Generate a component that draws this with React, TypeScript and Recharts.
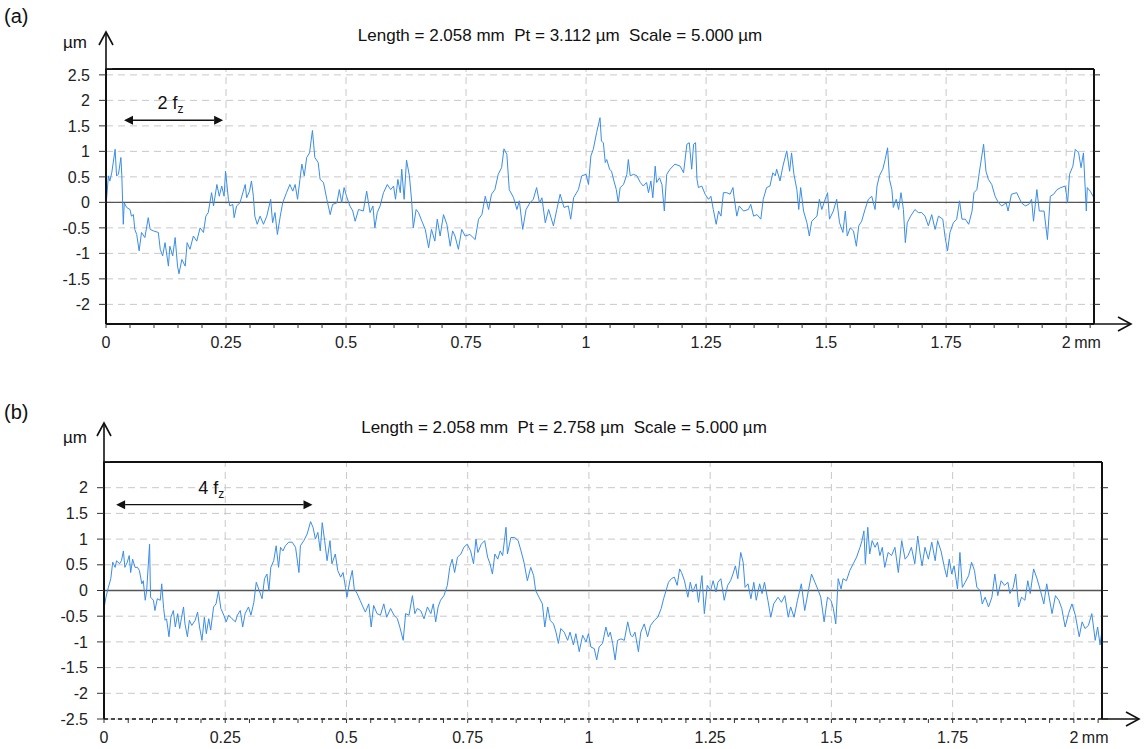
import React from 'react';
import { CartesianGrid, Line, LineChart, ReferenceLine, XAxis, YAxis } from 'recharts';

// Profile (a): [x in mm, height in µm].
const PROFILE_A: [number, number][] = [
  [0.000,-0.07],[0.005,0.52],[0.008,0.42],[0.012,0.58],[0.019,1.04],[0.022,0.52],[0.026,0.55],[0.031,0.88],[0.033,0.52],[0.036,-0.43],
  [0.038,-0.01],[0.043,-0.10],[0.050,-0.14],[0.053,-0.27],[0.057,-0.24],[0.060,-0.53],[0.064,-0.63],[0.069,-0.95],[0.074,-0.59],[0.081,-0.69],
  [0.088,-0.30],[0.092,-0.53],[0.099,-0.56],[0.109,-0.59],[0.113,-0.92],[0.118,-1.05],[0.123,-0.79],[0.130,-1.25],[0.133,-0.86],[0.139,-1.05],
  [0.144,-0.69],[0.149,-1.25],[0.152,-1.40],[0.158,-1.12],[0.165,-1.25],[0.169,-0.79],[0.175,-0.92],[0.182,-0.66],[0.189,-0.76],[0.196,-0.50],
  [0.203,-0.59],[0.208,-0.27],[0.213,-0.20],[0.220,0.19],[0.224,-0.07],[0.231,0.35],[0.236,0.12],[0.241,0.32],[0.246,0.12],[0.249,0.61],
  [0.255,0.06],[0.258,-0.07],[0.264,-0.04],[0.267,-0.30],[0.272,-0.07],[0.279,-0.01],[0.286,0.22],[0.290,0.35],[0.293,0.09],[0.299,0.22],
  [0.303,0.42],[0.307,0.12],[0.310,-0.27],[0.315,-0.43],[0.321,-0.27],[0.328,-0.43],[0.335,-0.27],[0.343,0.06],[0.347,-0.40],[0.352,-0.20],
  [0.357,-0.63],[0.363,-0.27],[0.368,-0.01],[0.376,0.19],[0.383,0.35],[0.389,0.22],[0.394,0.35],[0.399,0.06],[0.404,0.45],[0.408,0.75],
  [0.413,0.52],[0.418,0.88],[0.424,0.97],[0.430,1.41],[0.435,0.88],[0.442,0.78],[0.446,0.45],[0.453,0.39],[0.460,0.06],[0.467,-0.24],
  [0.472,-0.04],[0.481,-0.01],[0.486,0.25],[0.491,-0.01],[0.496,0.29],[0.501,0.12],[0.508,-0.07],[0.514,-0.17],[0.519,-0.37],[0.526,-0.14],
  [0.536,-0.17],[0.543,0.22],[0.550,-0.20],[0.556,-0.07],[0.560,-0.50],[0.565,-0.20],[0.571,-0.07],[0.578,0.19],[0.586,0.35],[0.593,0.25],
  [0.599,0.32],[0.603,0.06],[0.608,0.45],[0.613,0.19],[0.616,0.65],[0.621,0.06],[0.626,0.83],[0.632,0.52],[0.637,-0.01],[0.640,-0.50],
  [0.646,-0.14],[0.651,-0.20],[0.658,-0.37],[0.665,-0.53],[0.672,-0.89],[0.678,-0.53],[0.685,-0.76],[0.690,-0.33],[0.696,-0.66],[0.703,-0.24],
  [0.710,-0.43],[0.717,-0.86],[0.722,-0.56],[0.727,-0.66],[0.734,-0.92],[0.741,-0.53],[0.748,-0.66],[0.758,-0.63],[0.769,-0.73],[0.776,-0.33],
  [0.783,-0.24],[0.790,0.12],[0.797,-0.14],[0.803,0.16],[0.810,0.25],[0.817,0.55],[0.824,0.68],[0.829,1.05],[0.835,0.94],[0.840,0.25],
  [0.849,0.09],[0.856,-0.14],[0.861,0.03],[0.868,-0.53],[0.875,-0.14],[0.883,-0.01],[0.890,0.06],[0.897,0.29],[0.903,-0.01],[0.908,0.09],
  [0.915,-0.40],[0.922,-0.14],[0.932,-0.46],[0.939,-0.14],[0.946,0.16],[0.954,-0.10],[0.963,-0.07],[0.968,-0.33],[0.974,0.09],[0.984,0.25],
  [0.991,0.52],[1.000,0.55],[1.005,0.35],[1.010,0.91],[1.015,1.04],[1.022,1.37],[1.029,1.66],[1.032,1.20],[1.036,1.17],[1.040,0.78],
  [1.043,0.84],[1.049,0.65],[1.053,0.61],[1.058,0.42],[1.063,0.25],[1.067,-0.01],[1.071,0.29],[1.078,0.35],[1.085,0.55],[1.088,0.84],
  [1.092,0.52],[1.099,0.55],[1.106,0.52],[1.113,0.39],[1.119,0.32],[1.126,0.39],[1.130,0.19],[1.135,0.42],[1.139,0.09],[1.144,0.71],
  [1.147,0.39],[1.153,0.48],[1.158,0.35],[1.163,-0.17],[1.168,0.55],[1.175,0.65],[1.185,0.75],[1.196,0.71],[1.203,0.58],[1.210,1.14],
  [1.215,1.17],[1.220,0.65],[1.224,1.14],[1.228,1.17],[1.231,0.45],[1.234,0.29],[1.241,0.32],[1.248,0.16],[1.255,0.06],[1.260,0.12],
  [1.265,-0.14],[1.271,-0.43],[1.276,-0.17],[1.281,-0.27],[1.286,0.19],[1.293,0.19],[1.300,0.16],[1.306,0.29],[1.308,0.12],[1.314,-0.27],
  [1.319,-0.07],[1.328,-0.17],[1.338,-0.14],[1.343,-0.04],[1.349,-0.27],[1.356,-0.24],[1.364,-0.33],[1.369,0.06],[1.376,0.29],[1.383,0.32],
  [1.389,0.58],[1.394,0.52],[1.397,0.65],[1.404,0.42],[1.410,0.71],[1.418,1.01],[1.424,0.61],[1.428,0.97],[1.433,0.55],[1.439,0.25],
  [1.443,-0.14],[1.447,0.29],[1.453,-0.17],[1.460,-0.40],[1.465,-0.66],[1.470,-0.37],[1.481,-0.27],[1.486,0.06],[1.491,-0.14],[1.498,0.06],
  [1.503,0.19],[1.507,-0.33],[1.515,-0.17],[1.522,0.06],[1.528,-0.40],[1.535,-0.59],[1.540,-0.17],[1.544,-0.66],[1.550,-0.50],[1.557,-0.56],
  [1.563,-0.86],[1.568,-0.46],[1.574,-0.37],[1.581,-0.14],[1.588,0.06],[1.595,0.12],[1.602,-0.14],[1.606,0.32],[1.611,0.52],[1.618,0.65],
  [1.623,0.84],[1.628,1.07],[1.632,0.45],[1.637,0.25],[1.640,-0.10],[1.646,0.06],[1.651,-0.14],[1.656,0.19],[1.661,-0.14],[1.665,-0.79],
  [1.669,-0.40],[1.676,-0.27],[1.685,-0.14],[1.692,-0.20],[1.699,-0.20],[1.706,-0.27],[1.713,-0.46],[1.720,-0.24],[1.727,-0.53],[1.734,-0.27],
  [1.743,-0.33],[1.748,-0.69],[1.753,-0.95],[1.758,-0.59],[1.765,-0.40],[1.772,-0.33],[1.778,0.03],[1.783,-0.33],[1.790,-0.33],[1.797,-0.43],
  [1.804,-0.17],[1.808,0.19],[1.814,0.25],[1.819,0.58],[1.828,1.14],[1.833,0.61],[1.838,0.45],[1.845,0.35],[1.852,0.12],[1.859,-0.01],
  [1.866,-0.07],[1.875,-0.01],[1.879,-0.17],[1.886,0.16],[1.897,0.19],[1.907,-0.01],[1.915,-0.07],[1.922,-0.04],[1.928,0.06],[1.932,-0.37],
  [1.939,0.25],[1.944,-0.17],[1.954,-0.17],[1.961,-0.73],[1.967,0.12],[1.974,0.16],[1.981,0.25],[1.989,0.29],[1.998,0.32],[2.003,-0.01],
  [2.007,0.55],[2.014,0.71],[2.019,1.04],[2.026,0.97],[2.031,0.68],[2.036,0.97],[2.042,-0.17],[2.044,0.29],[2.050,0.22],[2.058,0.09],
];

// Profile (b)
const PROFILE_B: [number, number][] = [
  [0.000,-0.35],[0.004,-0.13],[0.009,0.06],[0.014,0.23],[0.018,0.55],[0.023,0.45],[0.026,0.58],[0.032,0.52],[0.036,0.58],[0.040,0.77],
  [0.043,0.45],[0.048,0.55],[0.052,0.68],[0.055,0.35],[0.059,0.61],[0.064,0.45],[0.069,0.45],[0.073,0.39],[0.078,0.13],[0.081,0.19],
  [0.085,-0.19],[0.088,0.00],[0.094,0.90],[0.096,-0.13],[0.102,-0.19],[0.105,-0.39],[0.110,-0.16],[0.116,-0.19],[0.119,0.13],[0.123,-0.35],
  [0.126,-0.58],[0.129,-0.55],[0.134,-0.90],[0.138,-0.52],[0.143,-0.39],[0.147,-0.71],[0.152,-0.45],[0.156,-0.74],[0.160,-0.52],[0.164,-0.32],
  [0.167,-0.65],[0.172,-0.90],[0.176,-0.58],[0.181,-0.68],[0.188,-0.58],[0.193,-0.42],[0.197,-0.71],[0.202,-0.97],[0.207,-0.52],[0.211,-0.84],
  [0.216,-0.55],[0.220,-0.77],[0.226,-0.32],[0.231,-0.26],[0.236,-0.01],[0.241,-0.35],[0.247,-0.48],[0.252,-0.61],[0.257,-0.48],[0.264,-0.55],
  [0.271,-0.61],[0.275,-0.48],[0.281,-0.39],[0.286,-0.71],[0.291,-0.45],[0.298,-0.32],[0.303,-0.48],[0.309,-0.23],[0.314,0.16],[0.319,0.03],
  [0.326,-0.16],[0.331,0.23],[0.336,0.32],[0.340,0.00],[0.344,0.45],[0.350,0.58],[0.355,0.87],[0.360,0.45],[0.364,0.84],[0.369,0.77],
  [0.374,0.87],[0.381,0.94],[0.388,0.94],[0.395,0.84],[0.402,0.35],[0.405,0.87],[0.412,0.97],[0.419,1.10],[0.426,1.34],[0.431,1.23],
  [0.436,1.00],[0.441,1.13],[0.446,0.77],[0.450,1.32],[0.455,0.97],[0.460,0.58],[0.466,0.97],[0.470,0.52],[0.477,0.71],[0.482,0.39],
  [0.488,0.26],[0.493,0.35],[0.498,0.06],[0.501,-0.13],[0.507,0.19],[0.512,0.39],[0.516,0.03],[0.522,-0.06],[0.528,-0.19],[0.534,-0.32],
  [0.539,-0.42],[0.546,-0.26],[0.551,-0.71],[0.556,-0.29],[0.563,-0.45],[0.570,-0.48],[0.577,-0.26],[0.583,-0.52],[0.591,-0.35],[0.598,-0.48],
  [0.605,-0.55],[0.610,-0.71],[0.617,-0.97],[0.622,-0.45],[0.629,-0.48],[0.636,-0.10],[0.641,-0.45],[0.646,-0.35],[0.653,-0.39],[0.660,-0.55],
  [0.667,-0.32],[0.674,-0.45],[0.679,-0.26],[0.684,-0.61],[0.689,-0.32],[0.694,-0.19],[0.701,-0.10],[0.708,0.10],[0.713,0.45],[0.718,0.61],
  [0.723,0.35],[0.729,0.65],[0.736,0.71],[0.742,0.84],[0.749,0.90],[0.756,0.77],[0.762,0.52],[0.767,1.00],[0.771,0.74],[0.778,0.90],
  [0.785,0.97],[0.791,0.65],[0.796,0.52],[0.801,0.32],[0.806,0.71],[0.812,0.61],[0.817,0.77],[0.822,0.68],[0.829,1.23],[0.832,0.71],
  [0.839,1.03],[0.847,1.03],[0.854,0.97],[0.860,0.77],[0.866,0.55],[0.873,0.19],[0.880,0.45],[0.886,0.29],[0.890,0.00],[0.897,-0.13],
  [0.904,-0.26],[0.909,-0.71],[0.915,-0.32],[0.920,-0.58],[0.927,-0.65],[0.932,-0.81],[0.937,-1.03],[0.942,-0.74],[0.949,-0.81],[0.956,-0.97],
  [0.961,-0.81],[0.968,-1.06],[0.973,-0.84],[0.980,-1.19],[0.987,-0.87],[0.994,-1.00],[0.999,-0.84],[1.004,-1.10],[1.011,-1.13],[1.016,-1.35],
  [1.021,-1.10],[1.028,-1.03],[1.035,-0.71],[1.040,-0.90],[1.044,-0.81],[1.049,-1.03],[1.054,-1.35],[1.059,-0.97],[1.066,-0.94],[1.073,-0.97],
  [1.080,-0.61],[1.086,-0.87],[1.090,-0.90],[1.095,-0.81],[1.102,-1.19],[1.107,-0.81],[1.114,-0.65],[1.121,-0.90],[1.127,-0.68],[1.135,-0.58],
  [1.142,-0.52],[1.149,-0.35],[1.154,-0.16],[1.160,0.03],[1.164,0.16],[1.170,0.23],[1.176,0.26],[1.182,0.10],[1.187,0.42],[1.191,0.35],
  [1.197,0.19],[1.204,-0.13],[1.209,0.16],[1.214,-0.03],[1.221,0.13],[1.226,-0.23],[1.233,0.29],[1.238,-0.45],[1.244,0.10],[1.251,0.00],
  [1.256,0.19],[1.262,-0.03],[1.266,0.16],[1.272,0.23],[1.279,-0.19],[1.286,0.10],[1.292,0.19],[1.297,0.32],[1.302,0.48],[1.307,0.23],
  [1.313,0.74],[1.318,0.55],[1.322,0.06],[1.328,0.13],[1.334,-0.16],[1.340,0.16],[1.345,-0.19],[1.352,0.13],[1.357,-0.06],[1.362,0.16],
  [1.369,-0.19],[1.375,-0.52],[1.381,-0.26],[1.390,-0.13],[1.397,-0.23],[1.404,-0.10],[1.411,-0.52],[1.416,-0.32],[1.423,-0.52],[1.430,-0.19],
  [1.438,0.13],[1.445,-0.39],[1.452,-0.03],[1.459,0.32],[1.466,0.16],[1.473,0.00],[1.478,-0.13],[1.485,-0.61],[1.492,-0.13],[1.499,-0.19],
  [1.504,-0.35],[1.509,-0.65],[1.514,0.23],[1.520,0.03],[1.524,0.23],[1.531,0.19],[1.538,0.39],[1.545,0.52],[1.552,0.65],[1.559,0.84],
  [1.563,0.97],[1.567,1.16],[1.570,0.52],[1.575,1.23],[1.579,0.71],[1.584,0.97],[1.590,0.84],[1.595,0.94],[1.600,0.68],[1.605,0.84],
  [1.610,0.45],[1.617,0.74],[1.624,0.68],[1.631,0.84],[1.638,0.35],[1.645,0.97],[1.652,0.61],[1.658,0.68],[1.665,0.84],[1.672,0.52],
  [1.678,1.06],[1.683,0.71],[1.687,0.48],[1.693,0.84],[1.700,0.61],[1.707,0.94],[1.714,0.58],[1.719,0.97],[1.726,0.77],[1.733,0.45],
  [1.738,0.26],[1.743,0.61],[1.748,0.32],[1.753,0.48],[1.760,0.03],[1.765,0.74],[1.770,0.06],[1.776,0.16],[1.783,0.29],[1.789,0.55],
  [1.795,0.39],[1.800,0.06],[1.807,0.00],[1.811,-0.26],[1.817,-0.13],[1.824,-0.32],[1.831,-0.13],[1.837,0.32],[1.843,-0.10],[1.850,0.19],
  [1.857,0.10],[1.864,0.16],[1.868,-0.06],[1.875,0.06],[1.880,0.32],[1.886,-0.32],[1.892,-0.13],[1.899,-0.19],[1.905,0.19],[1.910,-0.06],
  [1.917,0.42],[1.924,0.23],[1.931,0.00],[1.938,-0.26],[1.944,0.13],[1.949,-0.13],[1.955,-0.45],[1.962,-0.10],[1.969,-0.19],[1.975,-0.35],
  [1.982,-0.71],[1.989,-0.45],[1.996,-0.26],[2.003,-0.48],[2.011,-0.90],[2.017,-0.61],[2.023,-0.74],[2.030,-0.68],[2.037,-0.45],[2.044,-0.97],
  [2.049,-0.71],[2.054,-1.06],[2.058,-0.77],
];

const LENGTH_MM = 2.058;
const X_LABELED = [0, 0.25, 0.5, 0.75, 1, 1.25, 1.5, 1.75, 2];
const X_MINOR = [
  0, 0.05, 0.1, 0.15, 0.2, 0.25, 0.3, 0.35, 0.4, 0.45, 0.5, 0.55, 0.6, 0.65, 0.7, 0.75, 0.8, 0.85, 0.9, 0.95,
  1, 1.05, 1.1, 1.15, 1.2, 1.25, 1.3, 1.35, 1.4, 1.45, 1.5, 1.55, 1.6, 1.65, 1.7, 1.75, 1.8, 1.85, 1.9, 1.95, 2, 2.05,
];
const X_TOP = X_MINOR.slice(1); // the corner is taken by the µm arrow
const Y_TICKS_A = [-2, -1.5, -1, -0.5, 0, 0.5, 1, 1.5, 2, 2.5];
const Y_TICKS_B = [-2.5, -2, -1.5, -1, -0.5, 0, 0.5, 1, 1.5, 2];
const Y_DOMAIN_A: [number, number] = [-2.385, 2.615];
const Y_DOMAIN_B: [number, number] = [-2.5, 2.5];
const TITLE_A = 'Length = 2.058 mm  Pt = 3.112 µm  Scale = 5.000 µm';
const TITLE_B = 'Length = 2.058 mm  Pt = 2.758 µm  Scale = 5.000 µm';
// feed-per-tooth spans: [from mm, to mm, at µm, multiple]
const SPAN_A: [number, number, number, string] = [0.0375, 0.244, 1.61, '2'];
const SPAN_B: [number, number, number, string] = [0.025, 0.43, 1.67, '4'];

const FONT = '"Liberation Sans", Arial, sans-serif';
const BLUE = '#3a8de6';
const GRID = '#c8c8c8';

const isLabeled = (v: number) => X_LABELED.some((t) => Math.abs(t - v) < 1e-6);

function XTick(props: any) {
  const { x, y, payload } = props;
  const v = payload.value as number;
  if (!isLabeled(v)) return <g />;
  return (
    <g>
      <text x={x} y={y} dy={12} textAnchor="middle" fontSize={16} fill="#222" fontFamily={FONT}>
        {String(v)}
      </text>
      {v === 2 && (
        <text x={x + 8} y={y} dy={12} textAnchor="start" fontSize={16} fill="#222" fontFamily={FONT}>
          mm
        </text>
      )}
    </g>
  );
}

function SpanArrow(props: any, n: string) {
  const { x1, y1, x2 } = props;
  const mid = (x1 + x2) / 2 - 3;
  const h = 9;
  return (
    <g>
      <line x1={x1 + h} y1={y1} x2={x2 - h} y2={y1} stroke="#111" strokeWidth={1.3} />
      <polygon points={`${x1},${y1} ${x1 + h},${y1 - 4.5} ${x1 + h},${y1 + 4.5}`} fill="#111" />
      <polygon points={`${x2},${y1} ${x2 - h},${y1 - 4.5} ${x2 - h},${y1 + 4.5}`} fill="#111" />
      <text x={mid} y={y1 - 11} textAnchor="middle" fontSize={18} fill="#111" fontFamily={FONT}>
        {n} f<tspan fontSize={12} dy={4}>z</tspan>
      </text>
    </g>
  );
}

interface ProfileProps {
  data: [number, number][];
  yDomain: [number, number];
  yTicks: number[];
  span: [number, number, number, string];
  width: number;
  height: number;
  margin: { top: number; right: number; bottom: number; left: number };
  dashedBottom?: boolean;
}

function Profile({ data, yDomain, yTicks, span, width, height, margin, dashedBottom }: ProfileProps) {
  const rows = data.map(([x, y]) => ({ x, y }));
  const frame = { stroke: '#111', strokeWidth: 2 };
  return (
    <LineChart width={width} height={height} data={rows} margin={margin}>
      <CartesianGrid vertical={false} stroke={GRID} strokeDasharray="7 5" />
      {X_LABELED.map((v) => (
        <ReferenceLine key={v} x={v} stroke={GRID} strokeDasharray="7 5" />
      ))}
      <ReferenceLine y={0} stroke="#555" strokeWidth={1.4} />
      <XAxis
        dataKey="x"
        type="number"
        domain={[0, LENGTH_MM]}
        allowDataOverflow
        ticks={X_MINOR}
        interval={0}
        height={30}
        tickSize={4}
        tickMargin={8}
        tick={<XTick />}
        axisLine={dashedBottom ? { stroke: '#111', strokeWidth: 1.5, strokeDasharray: '4 3' } : frame}
        tickLine={{ stroke: '#333' }}
      />
      <XAxis
        xAxisId="top"
        orientation="top"
        type="number"
        domain={[0, LENGTH_MM]}
        allowDataOverflow
        ticks={X_TOP}
        interval={0}
        height={10}
        tickSize={5}
        tickFormatter={() => ''}
        axisLine={frame}
        tickLine={{ stroke: '#333' }}
      />
      <YAxis
        type="number"
        domain={yDomain}
        allowDataOverflow
        ticks={yTicks}
        interval={0}
        width={50}
        tickSize={7}
        tickMargin={9}
        tick={{ fontSize: 16, fill: '#222', fontFamily: FONT }}
        axisLine={frame}
        tickLine={{ stroke: '#333' }}
      />
      <YAxis
        yAxisId="right"
        orientation="right"
        type="number"
        domain={yDomain}
        allowDataOverflow
        ticks={yTicks}
        interval={0}
        width={10}
        tickSize={6}
        tickFormatter={() => ''}
        axisLine={frame}
        tickLine={{ stroke: '#333' }}
      />
      <Line
        type="linear"
        dataKey="y"
        stroke={BLUE}
        strokeWidth={1}
        dot={false}
        activeDot={false}
        isAnimationActive={false}
      />
      <ReferenceLine
        segment={[
          { x: span[0], y: span[2] },
          { x: span[1], y: span[2] },
        ]}
        shape={(p: any) => SpanArrow(p, span[3])}
      />
    </LineChart>
  );
}

export default function App() {
  const txt = { fontFamily: FONT, fill: '#111' };
  return (
    <div style={{ position: 'absolute', left: 0, top: 0, width: 1146, height: 749, background: '#fff' }}>
      <div style={{ position: 'absolute', left: 0, top: 0 }}>
        <Profile
          data={PROFILE_A}
          yDomain={Y_DOMAIN_A}
          yTicks={Y_TICKS_A}
          span={SPAN_A}
          width={1146}
          height={380}
          margin={{ top: 59, right: 42, bottom: 26, left: 56 }}
        />
      </div>
      <div style={{ position: 'absolute', left: 0, top: 395 }}>
        <Profile
          data={PROFILE_B}
          yDomain={Y_DOMAIN_B}
          yTicks={Y_TICKS_B}
          span={SPAN_B}
          width={1146}
          height={354}
          margin={{ top: 57, right: 34, bottom: 0, left: 54 }}
          dashedBottom
        />
      </div>
      <svg width={1146} height={749} style={{ position: 'absolute', left: 0, top: 0, pointerEvents: 'none' }}>
        <text x={4} y={23} fontSize={20} {...txt}>(a)</text>
        <text x={4} y={419} fontSize={20} {...txt}>(b)</text>
        <text x={63} y={48} fontSize={17} {...txt}>µm</text>
        <text x={63} y={443} fontSize={17} {...txt}>µm</text>
        <text x={560} y={41} fontSize={17} textAnchor="middle" style={{ whiteSpace: 'pre' }} {...txt}>{TITLE_A}</text>
        <text x={564} y={433} fontSize={17} textAnchor="middle" style={{ whiteSpace: 'pre' }} {...txt}>{TITLE_B}</text>
        {/* keep the axis corners clean where the arrows leave the frame */}
        <rect x={100} y={55} width={14} height={13} fill="#fff" />
        <rect x={98} y={448} width={14} height={13} fill="#fff" />
        <g stroke="#111" strokeWidth={1.6} fill="none">
          <line x1={106} y1={70} x2={106} y2={32} />
          <polyline points="99,45 106,32 113,45" />
          <line x1={1094} y1={324} x2={1131} y2={324} />
          <polyline points="1118,317 1131,324 1118,331" />
          <line x1={104} y1={463} x2={104} y2={423} />
          <polyline points="97,436 104,423 111,436" />
          <line x1={1102} y1={719} x2={1139} y2={719} />
          <polyline points="1126,712 1139,719 1126,726" />
        </g>
      </svg>
    </div>
  );
}
